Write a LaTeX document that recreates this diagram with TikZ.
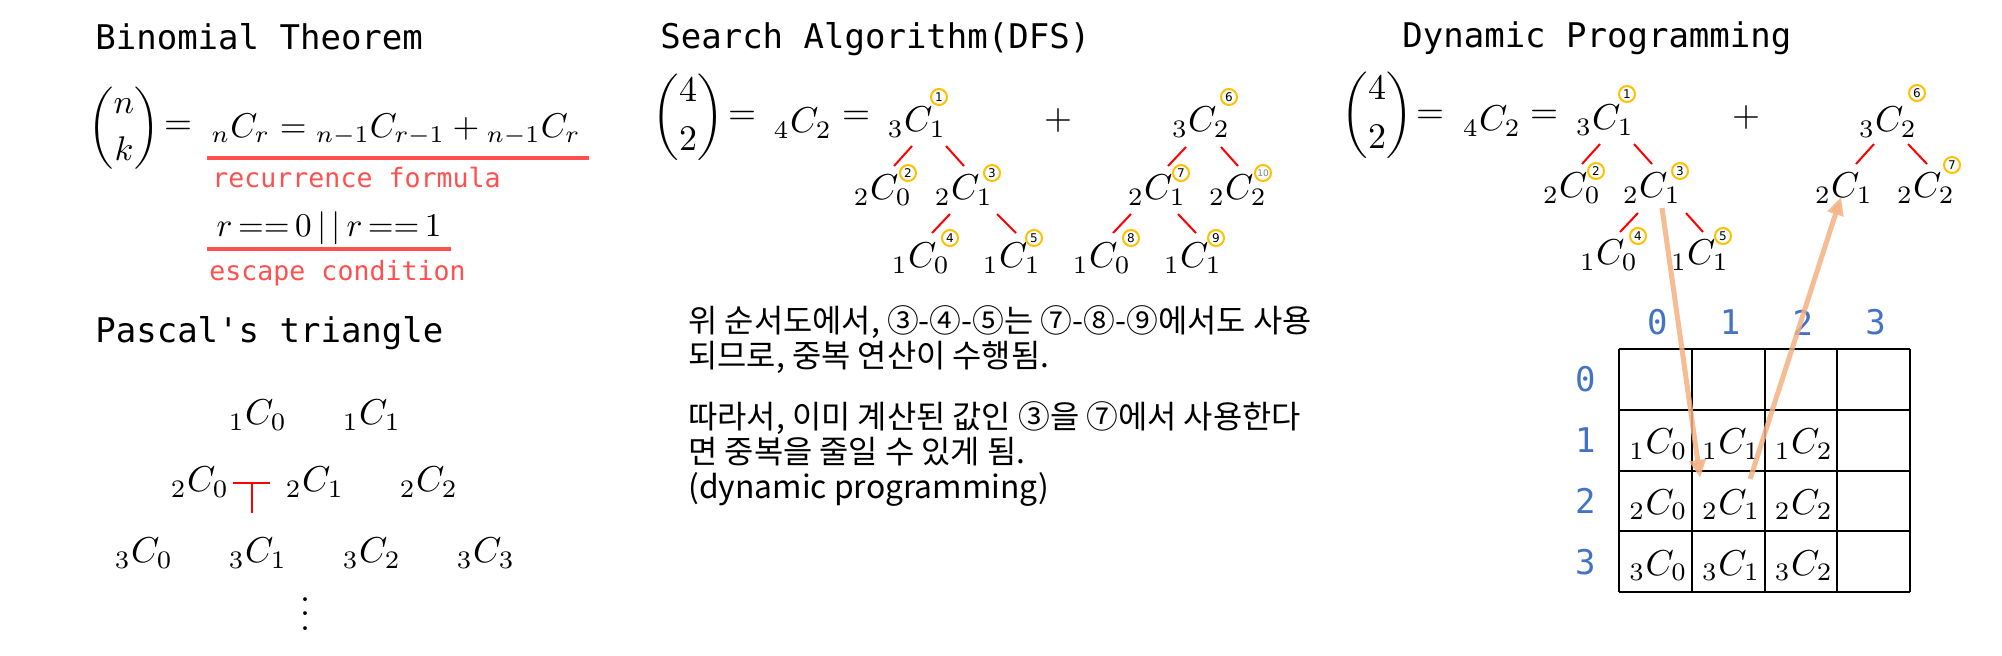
\documentclass[tikz,border=0pt]{standalone}
\usepackage{amsmath}
\usepackage{fontspec}
\setmonofont{DejaVu Sans Mono}
\newfontfamily\krfont{Noto Sans CJK KR}
\newfontfamily\djfont{DejaVu Sans}
\usetikzlibrary{calc,arrows.meta}
\definecolor{ulred}{RGB}{255,80,80}
\definecolor{mkorange}{RGB}{255,192,0}
\definecolor{peach}{RGB}{244,177,131}
\definecolor{hblue}{RGB}{68,114,196}
\newcommand\trline[6]{\draw[tline] ($(#1)+(#2,#3)$) -- ($(#4)+(#5,#6)$);}
\begin{document}
\begin{tikzpicture}[x=0.5pt,y=-0.5pt,
  heading/.style={anchor=base west,inner sep=0,font=\ttfamily\fontsize{17}{20}\selectfont},
  redlabel/.style={anchor=base west,inner sep=0,text=ulred,font=\ttfamily\fontsize{13.3}{16}\selectfont},
  mth/.style={inner sep=0,scale=1.8},
  mk/.style={circle,draw=mkorange,line width=1pt,minimum size=8pt,inner sep=0,font=\djfont\fontsize{6}{6}\selectfont},
  tline/.style={red,line width=1pt},
  uline/.style={ulred,line width=1.75pt},
  krtext/.style={anchor=base west,inner sep=0,font=\krfont\fontsize{15.9}{18}\selectfont},
  hdr/.style={inner sep=0,text=hblue,font=\ttfamily\fontsize{17}{20}\selectfont},
  tblline/.style={black,line width=1pt},
  dparrow/.style={peach,opacity=0.85,line width=2.5pt,-{Triangle[length=9pt,width=8pt]}}
]
\useasboundingbox (0,0) rectangle (2002,655);

% ---------- Binomial Theorem ----------
\node[heading] (h1) at (95,49) {Binomial Theorem};
\node[mth,scale=0.95] (b1) at (124,128) {$\displaystyle\binom{n}{k}$};
\node[mth] (eq1) at (178,128) {$=$};
\node[mth,anchor=west,scale=0.955] (f1) at (211,130) {${}_{n}C_{r} = {}_{n-1}C_{r-1} + {}_{n-1}C_{r}$};
\draw[uline] (207,158) -- (589,158);
\node[redlabel] (r1) at (212,187) {recurrence formula};
\node[mth,anchor=west,scale=0.92] (f2) at (216,228) {$r\,{=}{=}\,0\,|\,|\,r\,{=}{=}\,1$};
\draw[uline] (207,249) -- (451,249);
\node[redlabel] (r2) at (209,280) {escape condition};

% ---------- Pascal's triangle ----------
\node[heading] (h2) at (95,342) {Pascal's triangle};
\node[mth] (p10) at (258,415) {${}_{1}C_{0}$};
\node[mth] (p11) at (372,415) {${}_{1}C_{1}$};
\node[mth] (p20) at (200,482) {${}_{2}C_{0}$};
\node[mth] (p21) at (315,482) {${}_{2}C_{1}$};
\node[mth] (p22) at (429,482) {${}_{2}C_{2}$};
\node[mth] (p30) at (144,553) {${}_{3}C_{0}$};
\node[mth] (p31) at (258,553) {${}_{3}C_{1}$};
\node[mth] (p32) at (372,553) {${}_{3}C_{2}$};
\node[mth] (p33) at (486,553) {${}_{3}C_{3}$};
\node[mth] (vd) at (305,603) {$\vdots$};
\draw[tline] (233,483) -- (270,483) (252,483) -- (252,513);

% ---------- Search Algorithm (DFS) ----------
\node[heading] (h3) at (660,48) {Search Algorithm(DFS)};
\node[mth] (b2) at (688,117) {$\displaystyle\binom{4}{2}$};
\node[mth] (eq2) at (742,118) {$=$};
\node[mth] (c42) at (803,123) {${}_{4}C_{2}$};
\node[mth] (eq3) at (856,118) {$=$};
\node[mth] (a1) at (917,122) {${}_{3}C_{1}$};
\node[mth] (a2) at (883,190) {${}_{2}C_{0}$};
\node[mth] (a3) at (964,190) {${}_{2}C_{1}$};
\node[mth] (a4) at (921,258) {${}_{1}C_{0}$};
\node[mth] (a5) at (1012,258) {${}_{1}C_{1}$};
\node[mk] (m1) at (939,97) {1};
\node[mk] (m2) at (908,173) {2};
\node[mk] (m3) at (992,173) {3};
\node[mk] (m4) at (950,238) {4};
\node[mk] (m5) at (1034,238) {5};
\trline{a1}{-5}{24}{a2}{11}{-24}
\trline{a1}{29}{24}{a3}{0}{-24}
\trline{a3}{-14}{24}{a4}{11}{-25}
\trline{a3}{33}{24}{a5}{4}{-25}
\node[mth] (plus1) at (1058,120) {$+$};
\node[mth] (a6) at (1201,122) {${}_{3}C_{2}$};
\node[mth] (a7) at (1157,190) {${}_{2}C_{1}$};
\node[mth] (a10) at (1238,190) {${}_{2}C_{2}$};
\node[mth] (a8) at (1102,258) {${}_{1}C_{0}$};
\node[mth] (a9) at (1193,258) {${}_{1}C_{1}$};
\node[mk] (m6) at (1229,97) {6};
\node[mk] (m7) at (1181,173) {7};
\node[mk,text=gray,font=\djfont\fontsize{4.5}{5}\selectfont] (m10) at (1263,173) {10};
\node[mk] (m8) at (1131,238) {8};
\node[mk] (m9) at (1216,238) {9};
\trline{a6}{-15}{25}{a7}{11}{-24}
\trline{a6}{20}{25}{a10}{0}{-24}
\trline{a7}{-26}{24}{a8}{11}{-25}
\trline{a7}{21}{24}{a9}{3}{-25}

% ---------- Korean explanation ----------
\node[krtext] (k1) at (688,332) {위 순서도에서, ③-④-⑤는 ⑦-⑧-⑨에서도 사용};
\node[krtext] (k2) at (688,367) {되므로, 중복 연산이 수행됨.};
\node[krtext] (k3) at (688,428) {따라서, 이미 계산된 값인 ③을 ⑦에서 사용한다};
\node[krtext] (k4) at (688,463) {면 중복을 줄일 수 있게 됨.};
\node[krtext] (k5) at (688,498) {(dynamic programming)};

% ---------- Dynamic Programming ----------
\node[heading] (h4) at (1402,47) {Dynamic Programming};
\node[mth] (b3) at (1377,115) {$\displaystyle\binom{4}{2}$};
\node[mth] (eq4) at (1430,117) {$=$};
\node[mth] (c42b) at (1492,121) {${}_{4}C_{2}$};
\node[mth] (eq5) at (1544,117) {$=$};
\node[mth] (d1) at (1605,120) {${}_{3}C_{1}$};
\node[mth] (d2) at (1572,188) {${}_{2}C_{0}$};
\node[mth] (d3) at (1652,188) {${}_{2}C_{1}$};
\node[mth] (d4) at (1609,255) {${}_{1}C_{0}$};
\node[mth] (d5) at (1700,255) {${}_{1}C_{1}$};
\node[mk] (n1) at (1627,94) {1};
\node[mk] (n2) at (1596,171) {2};
\node[mk] (n3) at (1680,171) {3};
\node[mk] (n4) at (1638,236) {4};
\node[mk] (n5) at (1723,236) {5};
\trline{d1}{-5}{24}{d2}{10}{-24}
\trline{d1}{29}{24}{d3}{0}{-24}
\trline{d3}{-14}{25}{d4}{11}{-23}
\trline{d3}{34}{25}{d5}{3}{-23}
\node[mth] (plus2) at (1746,117) {$+$};
\node[mth] (d6) at (1888,122) {${}_{3}C_{2}$};
\node[mth] (d7) at (1844,188) {${}_{2}C_{1}$};
\node[mth] (d8) at (1926,188) {${}_{2}C_{2}$};
\node[mk] (n6) at (1917,93) {6};
\node[mk] (n7) at (1952,165) {7};
\trline{d6}{-14}{22}{d7}{12}{-24}
\trline{d6}{20}{22}{d8}{1}{-24}

% table
\foreach \i in {0,...,4} \draw[tblline] (1619,{349+60.75*\i}) -- (1910,{349+60.75*\i});
\foreach \j in {0,...,4} \draw[tblline] ({1619+72.75*\j},349) -- ({1619+72.75*\j},592);
\foreach \i in {0,...,3}{\foreach \j in {0,...,3}{
  \coordinate (t\i\j) at ({1619+72.75*(\j+0.5)},{349+60.75*(\i+0.5)});}}
\foreach \i in {1,2,3}{\foreach \j in {0,1,2}{
  \node[mth] (c\i\j) at ($(t\i\j)+(3,4)$) {${}_{\i}C_{\j}$};}}
\foreach \j in {0,...,3} \node[hdr] (ch\j) at ($(t0\j)+(2,-57)$) {\j};
\foreach \i in {0,...,3} \node[hdr] (rh\i) at ($(t\i0)+(-70,0)$) {\i};

% arrows
\draw[dparrow] ($(d3)+(10,20)$) -- ($(t21)+(-28,-23)$);
\draw[dparrow] ($(t21)+(22,-22)$) -- ($(d7)+(-3,9)$);
\end{tikzpicture}
\end{document}
